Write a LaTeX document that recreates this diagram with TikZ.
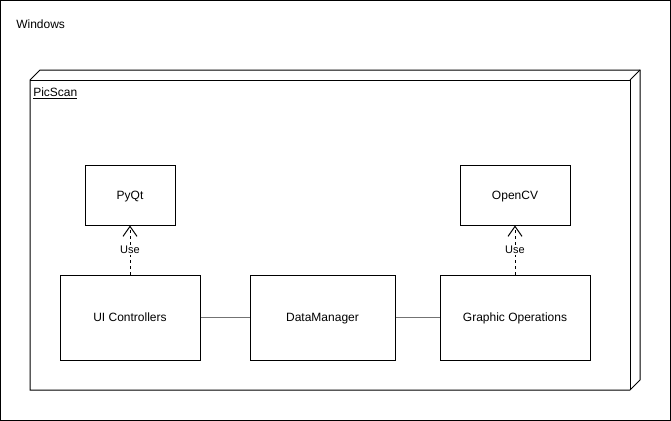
\documentclass[tikz,border=0pt]{standalone}
\usepackage{fontspec}
\setmainfont{Liberation Sans}
\usetikzlibrary{arrows.meta}
\begin{document}
\begin{tikzpicture}[x=0.75pt,y=-0.75pt,
  box/.style={draw=black,line width=0.75pt,fill=white,inner sep=0pt,text height=6.6pt,text depth=0pt,font=\fontsize{9}{11}\selectfont},
  link/.style={draw=black!55,line width=1pt},
  usearrow/.style={draw=black,line width=0.75pt,dashed,dash pattern=on 2.25pt off 2.25pt,-{Straight Barb[length=7.5pt,width=10.5pt,line width=0.75pt]}},
  lbl/.style={fill=white,inner sep=1pt,font=\fontsize{8.25}{10}\selectfont}]
\useasboundingbox (0,0) rectangle (671,421);
% outer Windows frame
\draw[line width=0.75pt] (0.5,0.5) rectangle (670.5,420.5);
\node[anchor=base west,inner sep=0pt,font=\fontsize{9}{11}\selectfont] (win) at (16,28) {Windows};
% 3D node
\draw[line width=0.75pt,fill=white] (30,80) -- (40,70) -- (640,70) -- (640,380) -- (630,390) -- (30,390) -- cycle;
\draw[line width=0.75pt] (30,80) -- (630,80) -- (630,390);
\draw[line width=0.75pt] (630,80) -- (640,70);
\node[anchor=base west,inner sep=0pt,font=\fontsize{9}{11}\selectfont] (pic) at (33,96) {\underline{PicScan}};
% boxes
\node[box,minimum width=90pt*0.75,minimum height=60pt*0.75] (pyqt) at (130,195) {PyQt};
\node[box,minimum width=110pt*0.75,minimum height=60pt*0.75] (opencv) at (515,195) {OpenCV};
\node[box,minimum width=140pt*0.75,minimum height=85pt*0.75] (ui) at (130,317.5) {UI Controllers};
\node[box,minimum width=145pt*0.75,minimum height=85pt*0.75] (dm) at (322.5,317.5) {DataManager};
\node[box,minimum width=150pt*0.75,minimum height=85pt*0.75] (go) at (515,317.5) {Graphic Operations};
% links
\draw[link] (ui) -- (dm);
\draw[link] (dm) -- (go);
\draw[usearrow] (ui.north) -- node[lbl,solid] {Use} (pyqt.south);
\draw[usearrow] (go.north) -- node[lbl,solid] {Use} (opencv.south);
\end{tikzpicture}
\end{document}
